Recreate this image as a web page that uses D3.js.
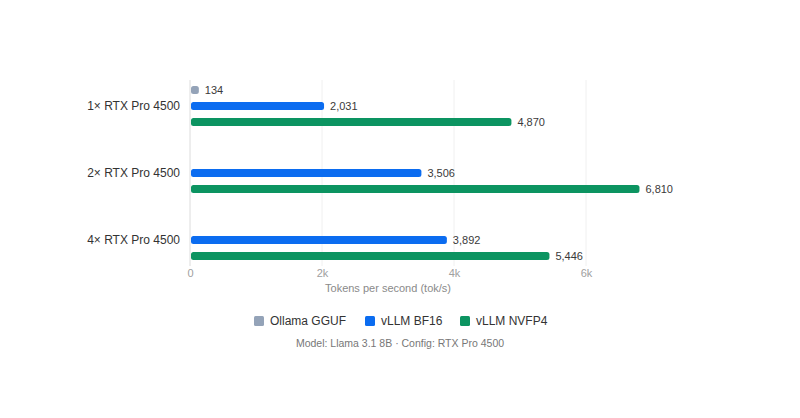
<!DOCTYPE html>
<html>
<head>
<meta charset="utf-8">
<script src="https://cdn.jsdelivr.net/npm/d3@7"></script>
<style>
  body { margin: 0; background: #fff; }
  svg { display: block; font-family: "Liberation Sans", Arial, Helvetica, sans-serif; }
</style>
</head>
<body>
<svg width="800" height="418"></svg>
<script>
// chart data
const configs = ["1× RTX Pro 4500", "2× RTX Pro 4500", "4× RTX Pro 4500"];
const series = ["Ollama GGUF", "vLLM BF16", "vLLM NVFP4"];
const ollama = [134, null, null];
const bf16 = [2031, 3506, 3892];
const nvfp4 = [4870, 6810, 5446];
const xTicks = [0, 2000, 4000, 6000];
const colors = ["#94a3b8", "#0b6cf0", "#0c9461"];

const values = [ollama, bf16, nvfp4];
const rows = [];
configs.forEach((c, i) => {
  series.forEach((s, j) => {
    if (values[j][i] != null) rows.push({ config: c, series: s, value: values[j][i] });
  });
});

const svg = d3.select("svg");
const left = 190, right = 652;

const x = d3.scaleLinear().domain([0, 7000]).range([left, right]);
const y = d3.scaleBand().domain(configs).range([72.5, 273.5]);
const inner = d3.scaleBand().domain(series).range([-24, 24]);
const color = d3.scaleOrdinal().domain(series).range(colors);

// faint grid lines
svg.append("g")
  .selectAll("line")
  .data(xTicks)
  .join("line")
  .attr("x1", d => x(d)).attr("x2", d => x(d))
  .attr("y1", 80).attr("y2", 266)
  .attr("stroke", d => d === 0 ? "#dcdcdc" : "#f0f0f0")
  .attr("stroke-width", 1);

// y axis labels
svg.append("g")
  .attr("transform", `translate(${left - 10},0)`)
  .call(d3.axisLeft(y).tickSize(0).tickPadding(0))
  .call(g => g.select(".domain").remove())
  .call(g => g.selectAll("text")
    .attr("font-size", 12)
    .attr("fill", "#333")
    .attr("font-family", "inherit"));

// x axis
svg.append("g")
  .attr("transform", `translate(0,265)`)
  .call(d3.axisBottom(x).tickValues(xTicks).tickSize(0).tickPadding(4)
    .tickFormat(d => d === 0 ? "0" : d / 1000 + "k"))
  .call(g => g.select(".domain").remove())
  .call(g => g.selectAll("text")
    .attr("font-size", 11)
    .attr("fill", "#a0a0a0")
    .attr("font-family", "inherit"));

svg.append("text")
  .attr("x", x(3000)).attr("y", 292)
  .attr("text-anchor", "middle")
  .attr("font-size", 11)
  .attr("fill", "#8a8a8a")
  .text("Tokens per second (tok/s)");

// bars
const barH = 8;
svg.append("g")
  .selectAll("rect")
  .data(rows)
  .join("rect")
  .attr("x", x(0) + 1)
  .attr("y", d => y(d.config) + y.bandwidth() / 2 + inner(d.series) + inner.bandwidth() / 2 - barH / 2)
  .attr("width", d => x(d.value) - x(0) - 1)
  .attr("height", barH)
  .attr("rx", 2.5)
  .attr("fill", d => color(d.series));

// value labels
svg.append("g")
  .selectAll("text")
  .data(rows)
  .join("text")
  .attr("x", d => x(d.value) + 6)
  .attr("y", d => y(d.config) + y.bandwidth() / 2 + inner(d.series) + inner.bandwidth() / 2)
  .attr("dy", "0.35em")
  .attr("font-size", 11)
  .attr("fill", "#3a3a3a")
  .text(d => d3.format(",")(d.value));

// legend
const legendX = [254, 365, 460];
const legend = svg.append("g")
  .selectAll("g")
  .data(series)
  .join("g")
  .attr("transform", (d, i) => `translate(${legendX[i]},316)`);
legend.append("rect")
  .attr("width", 10).attr("height", 10).attr("rx", 1.5)
  .attr("fill", d => color(d));
legend.append("text")
  .attr("x", 16).attr("y", 5).attr("dy", "0.35em")
  .attr("font-size", 12)
  .attr("fill", "#333")
  .text(d => d);

svg.append("text")
  .attr("x", 400).attr("y", 347)
  .attr("text-anchor", "middle")
  .attr("font-size", 10.5)
  .attr("fill", "#777")
  .text("Model: Llama 3.1 8B · Config: RTX Pro 4500");
</script>
</body>
</html>
